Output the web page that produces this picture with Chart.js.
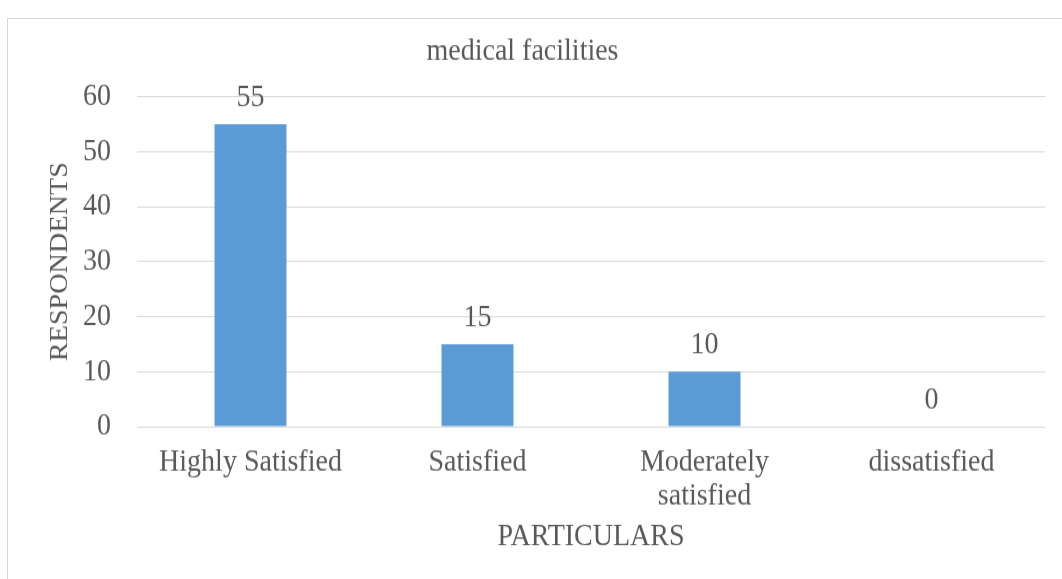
<!DOCTYPE html>
<html>
<head>
<meta charset="utf-8">
<script src="https://cdn.jsdelivr.net/npm/chart.js@4"></script>
<style>
  html, body { margin: 0; padding: 0; background: #fff; overflow: hidden; }
  #frame {
    position: absolute; left: 7px; top: 18px;
    width: 1100px; height: 700px;
    border: 1px solid #d9d9d9;
  }
  #chart { position: absolute; left: 0; top: 0; transform-origin: 0 0; }
</style>
</head>
<body>
<div id="frame"></div>
<canvas id="chart" width="1062" height="513"></canvas>
<script>
const categories = [['Highly Satisfied'], ['Satisfied'], ['Moderately', 'satisfied'], ['dissatisfied']]
const respondents = [55, 15, 10, 0]
const yTicks = [0, 10, 20, 30, 40, 50, 60]

const textColor = '#595959'
const fontFamily = '"Liberation Serif", "Times New Roman", serif'

// the source renders Times a bit narrow and tall, so the canvas is drawn
// shorter and stretched back to full height
const canvas = document.getElementById('chart')
canvas.style.transform = 'scaleY(' + (579 / 513) + ')'

// value labels above each bar
const valueLabels = {
  id: 'valueLabels',
  afterDatasetsDraw(chart) {
    const ctx = chart.ctx
    const meta = chart.getDatasetMeta(0)
    ctx.save()
    ctx.font = '28px ' + fontFamily
    ctx.fillStyle = textColor
    ctx.textAlign = 'center'
    ctx.textBaseline = 'alphabetic'
    meta.data.forEach((bar, i) => {
      ctx.fillText(String(respondents[i]), bar.x, bar.y - 16)
    })
    ctx.restore()
  }
}

new Chart(canvas, {
  type: 'bar',
  data: {
    labels: categories,
    datasets: [{
      data: respondents,
      backgroundColor: '#5b9bd5',
      borderWidth: 0,
      categoryPercentage: 1,
      barPercentage: 0.317
    }]
  },
  plugins: [valueLabels],
  options: {
    responsive: false,
    animation: false,
    layout: { padding: { left: 0, right: 17, top: 0, bottom: 0 } },
    plugins: {
      legend: { display: false },
      tooltip: { enabled: false },
      title: {
        display: true,
        text: 'medical facilities',
        color: textColor,
        font: { family: fontFamily, size: 28, weight: 'normal' },
        padding: { top: 29, bottom: 23 }
      }
    },
    scales: {
      x: {
        grid: { display: false, drawTicks: false },
        border: { display: false },
        ticks: {
          color: textColor,
          font: { family: fontFamily, size: 28, lineHeight: 1.07 },
          padding: 17,
          maxRotation: 0,
          autoSkip: false
        },
        title: {
          display: true,
          text: 'PARTICULARS',
          color: textColor,
          font: { family: fontFamily, size: 28 },
          padding: { top: 0, bottom: 21 }
        },
        afterFit(scale) { scale.height = 135 }
      },
      y: {
        min: 0,
        max: 60,
        afterBuildTicks(scale) { scale.ticks = yTicks.map(v => ({ value: v })) },
        grid: { color: '#d9d9d9', lineWidth: 1, drawTicks: false },
        border: { display: false },
        ticks: {
          color: textColor,
          font: { family: fontFamily, size: 28 },
          padding: 26
        },
        title: {
          display: true,
          text: 'RESPONDENTS',
          color: textColor,
          font: { family: fontFamily, size: 25 },
          padding: { top: 45, bottom: 0 }
        },
        afterFit(scale) { scale.width = 137 }
      }
    }
  }
})
</script>
</body>
</html>
